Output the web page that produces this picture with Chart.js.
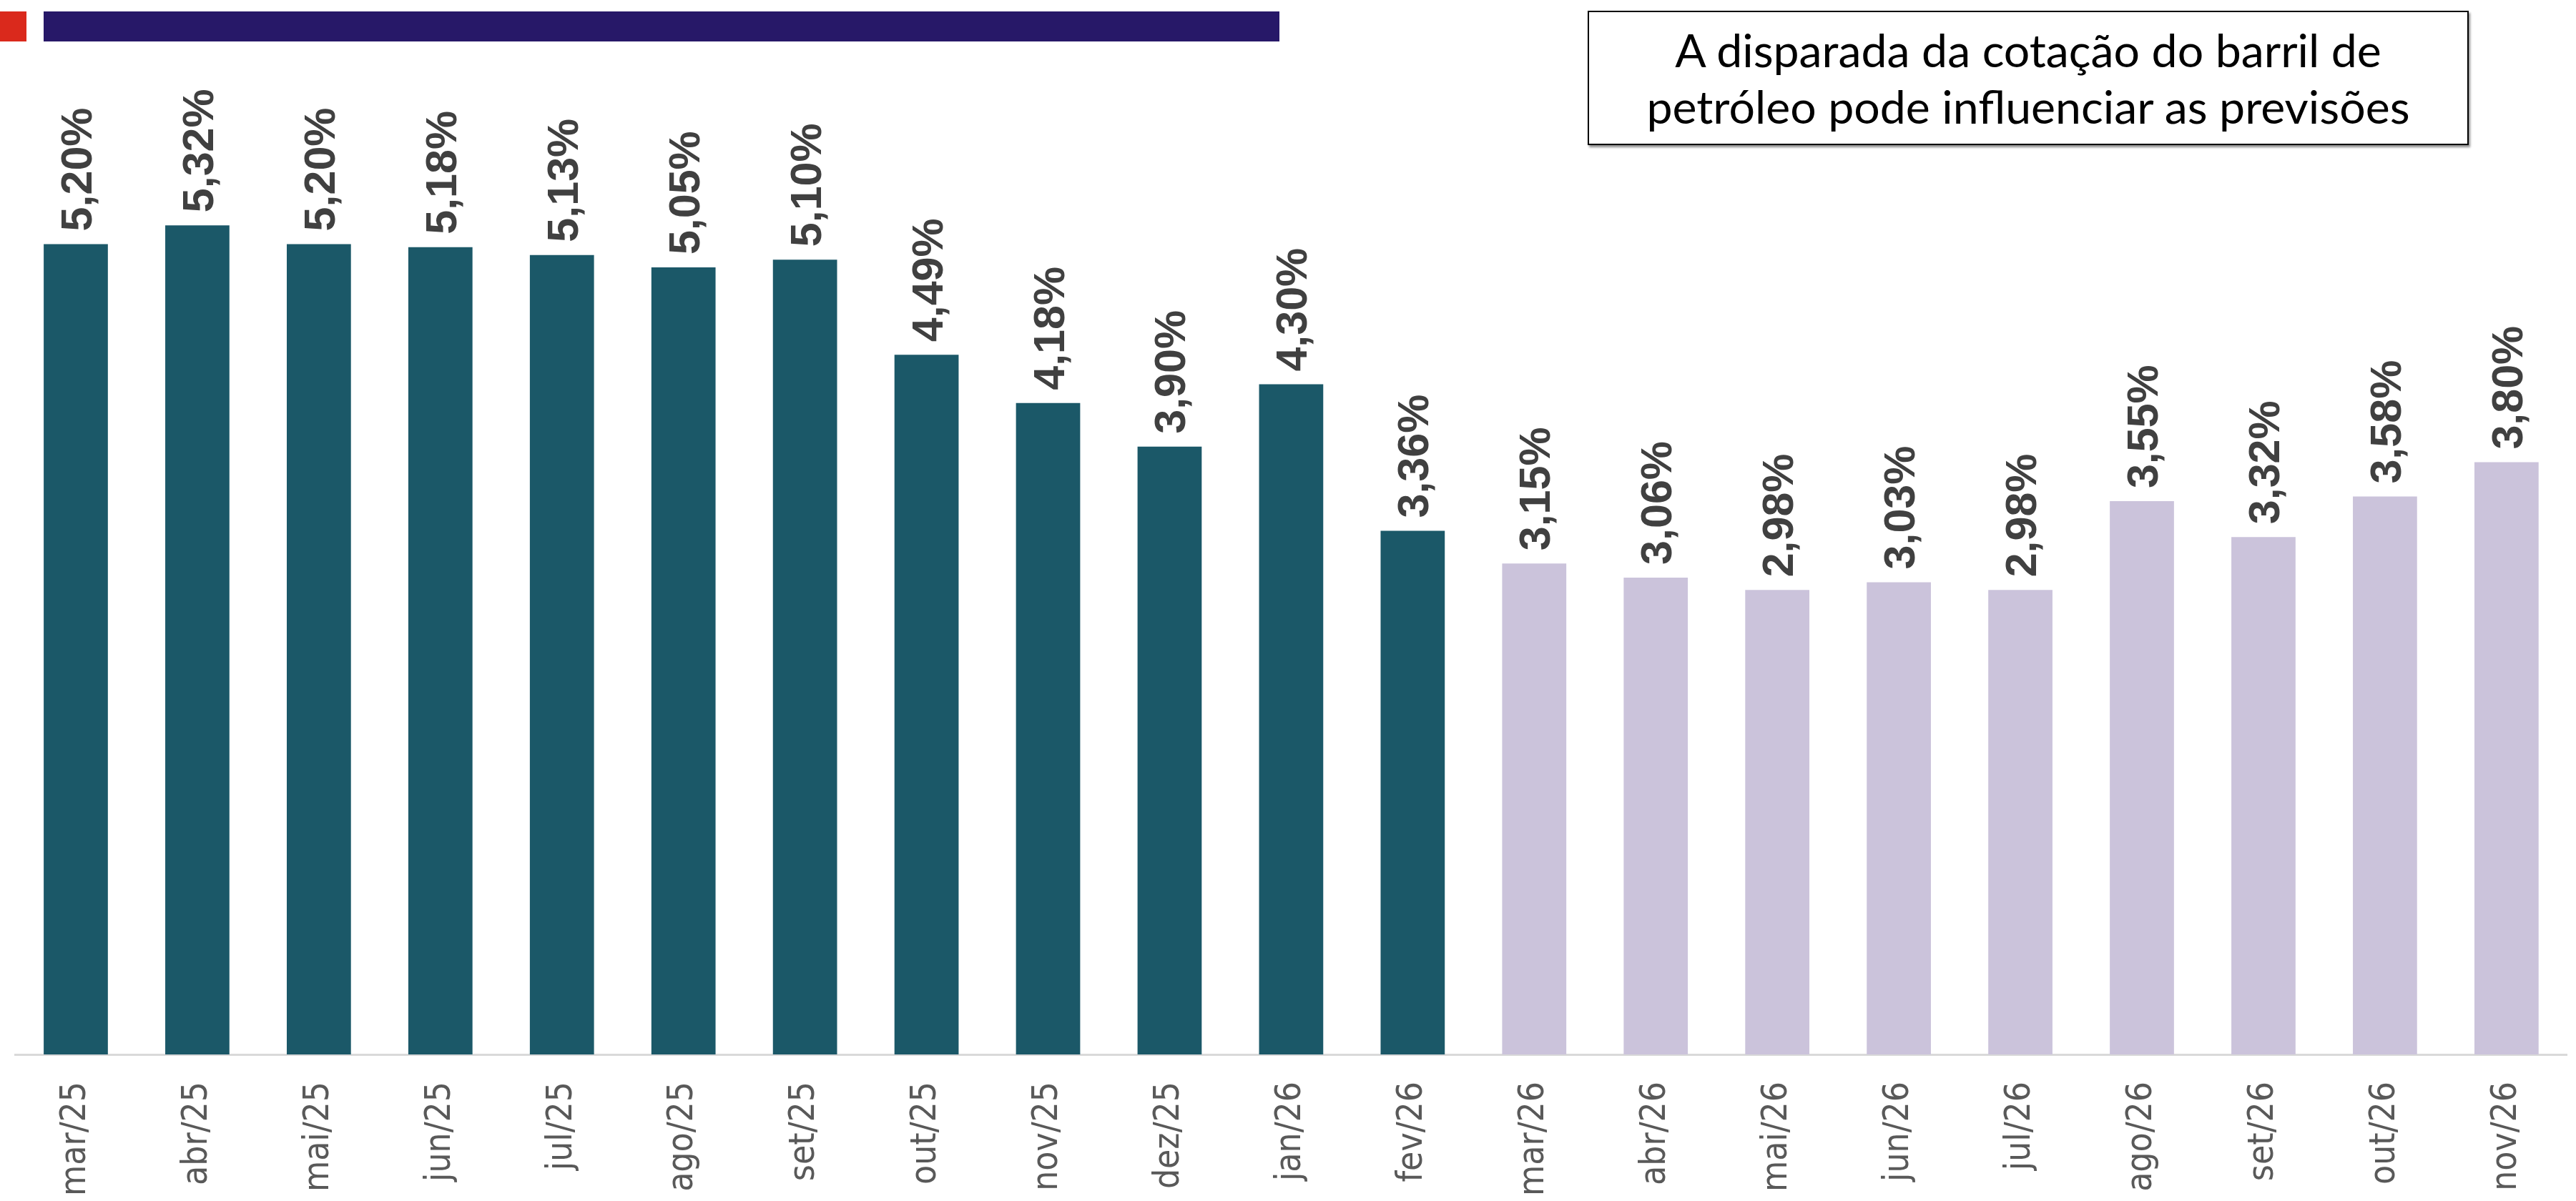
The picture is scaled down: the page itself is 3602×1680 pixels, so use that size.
<!DOCTYPE html>
<html>
<head>
<meta charset="utf-8">
<script src="https://cdn.jsdelivr.net/npm/chart.js@4.4.1/dist/chart.umd.min.js"></script>
<style>
html, body { margin: 0; padding: 0; background: #fff; }
#wrap { position: relative; width: 3602px; height: 1680px; overflow: hidden; }
#chartBox { position: absolute; left: 0; top: 0; width: 3602px; height: 1680px; }
.tag { position: absolute; top: 16px; height: 42px; z-index: 2; }
#red { left: 0; width: 37px; background: #da291c; }
#navy { left: 61px; width: 1728px; background: #271868; }
#title {
  position: absolute; left: 2220px; top: 15px; width: 1228px; height: 184px;
  border: 2px solid #000; box-shadow: 2px 3px 3px rgba(0,0,0,0.45);
  background: #fff; color: #000; text-align: center; z-index: 2;
  font-family: Lato, "Liberation Sans", sans-serif; line-height: 79px;
  display: flex; align-items: center; justify-content: center;
}
</style>
</head>
<body>
<div id="wrap">
  <div class="tag" id="red"></div>
  <div class="tag" id="navy"></div>
  <div id="title"><div><span id="t1">A disparada da cotação do barril de</span><br>petróleo pode influenciar as previsões</div></div>
  <div id="chartBox"><canvas id="myChart"></canvas></div>
</div>
<script>
var months = ['mar/25', 'abr/25', 'mai/25', 'jun/25', 'jul/25', 'ago/25', 'set/25', 'out/25', 'nov/25', 'dez/25', 'jan/26', 'fev/26',
              'mar/26', 'abr/26', 'mai/26', 'jun/26', 'jul/26', 'ago/26', 'set/26', 'out/26', 'nov/26'];
var rates = [5.20, 5.32, 5.20, 5.18, 5.13, 5.05, 5.10, 4.49, 4.18, 3.90, 4.30, 3.36,
             3.15, 3.06, 2.98, 3.03, 2.98, 3.55, 3.32, 3.58, 3.80];
var realized = 12; // bars before this index are dark, the rest are projections

function fmt(v) {
    return v.toFixed(2).replace('.', ',') + '%';
}

// pick a font size so that a sample text gets a given width
function fitSize(text, family, weight, target) {
    var c = document.createElement('canvas').getContext('2d');
    c.font = weight + ' 100px ' + family;
    return 100 * target / c.measureText(text).width;
}

var tickFamily = '"Liberation Sans Narrow", "DejaVu Sans Condensed", "Liberation Sans", sans-serif';
var tickSize = fitSize('mar/25', tickFamily, 'normal', 160);
var titleFamily = 'Lato, "Liberation Sans", sans-serif';
document.getElementById('title').style.fontSize = fitSize('A disparada da cotação do barril de', titleFamily, 'normal', 990) + 'px';

var barLabels = {
    id: 'barLabels',
    afterDatasetsDraw: function(chart) {
        var ctx = chart.ctx;
        var meta = chart.getDatasetMeta(0);
        ctx.save();
        ctx.fillStyle = '#404040';
        ctx.font = 'bold 61px "Liberation Sans", Arial, sans-serif';
        ctx.textAlign = 'left';
        ctx.textBaseline = 'alphabetic';
        meta.data.forEach(function(bar, i) {
            ctx.save();
            ctx.translate(bar.x, bar.y - 18);
            ctx.rotate(-Math.PI / 2);
            ctx.fillText(fmt(rates[i]), 0, 22);
            ctx.restore();
        });
        ctx.restore();
    }
};

var ctx = document.getElementById('myChart').getContext('2d');
var chart = new Chart(ctx, {
    type: 'bar',
    data: {
        labels: months,
        datasets: [{
            data: rates,
            backgroundColor: function(c) { return c.dataIndex < realized ? '#1b5868' : '#cbc3db'; },
            borderWidth: 0,
            categoryPercentage: 1,
            barPercentage: 0.528
        }]
    },
    options: {
        responsive: true,
        maintainAspectRatio: false,
        animation: false,
        devicePixelRatio: 1,
        layout: { padding: { left: 21, right: 0, top: 58, bottom: 0 } },
        plugins: { legend: { display: false }, tooltip: { enabled: false } },
        scales: {
            y: { display: false, min: 0, max: 6.5 },
            x: {
                grid: { display: false, drawTicks: false },
                border: { display: true, color: '#d9d9d9', width: 3 },
                ticks: {
                    color: '#595959',
                    font: { family: tickFamily, size: tickSize },
                    minRotation: 90, maxRotation: 90,
                    padding: 38,
                    autoSkip: false
                },
                afterFit: function(scale) { scale.height = 205; }
            }
        }
    },
    plugins: [barLabels]
});
</script>
</body>
</html>
